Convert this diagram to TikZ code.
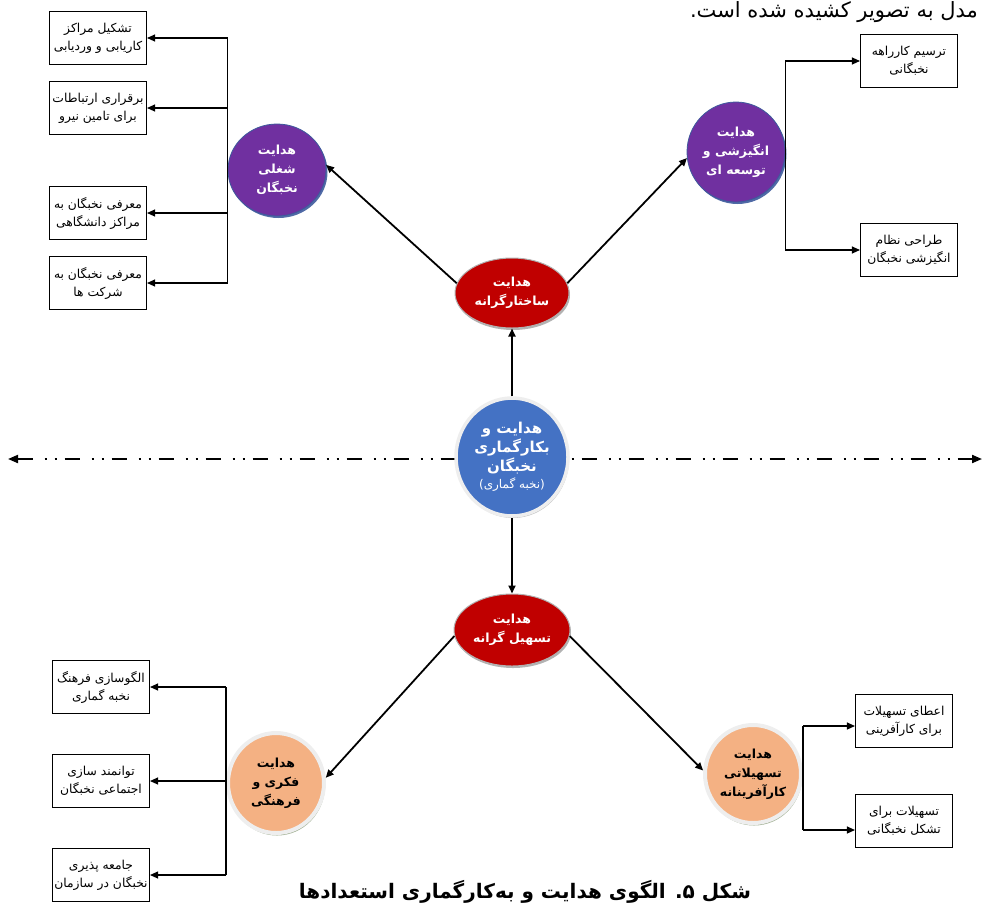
\documentclass[tikz,border=0pt]{standalone}
\usepackage{fontspec}
\TeXXeTstate=1
\newfontfamily\arabicfont[Script=Arabic]{DejaVu Sans}
\newcommand\fa[1]{\beginR #1\endR}
\usetikzlibrary{arrows.meta,shapes.geometric,shadows}
\definecolor{purp}{HTML}{7030A0}
\definecolor{purpedge}{HTML}{3D5A9C}
\definecolor{redc}{HTML}{C00000}
\definecolor{bluec}{HTML}{4472C4}
\definecolor{orangec}{HTML}{F4B183}
\definecolor{ringc}{HTML}{EEEEEE}
\definecolor{greenshadow}{HTML}{8EA07E}
\begin{document}
\begin{tikzpicture}[x=1pt,y=-1pt,
  box/.style={draw, line width=1.1pt, minimum width=97pt, minimum height=53pt, inner sep=1pt, align=center,
    font=\arabicfont\fontsize{12.3}{18}\selectfont},
  link/.style={-{Triangle[length=8pt,width=7pt]}, line width=1.1pt},
  main/.style={-{Triangle[length=8pt,width=7pt]}, line width=1.8pt},
  hub/.style={ellipse, align=center, inner sep=0pt, font=\arabicfont\bfseries\fontsize{12.5}{19}\selectfont},
  purplehub/.style={hub, fill=purp, draw=purpedge, line width=0.8pt, text=white,
    drop shadow={shadow xshift=1.5pt, shadow yshift=-2pt, fill=purpedge, opacity=0.9}},
  redhub/.style={hub, fill=redc, draw=gray!60, line width=1pt, text=white,
    drop shadow={shadow xshift=1pt, shadow yshift=-2pt, fill=gray, opacity=0.6}},
  bluehub/.style={hub, fill=bluec, draw=ringc, line width=3.5pt, text=white,
    drop shadow={shadow xshift=1pt, shadow yshift=-2pt, fill=gray, opacity=0.5}},
  orangehub/.style={hub, fill=orangec, draw=ringc, line width=4pt, text=black,
    drop shadow={shadow xshift=1pt, shadow yshift=-2.5pt, fill=greenshadow, opacity=0.8}},
  axis/.style={{Triangle[length=10pt,width=8pt]}-{Triangle[length=10pt,width=8pt]}, line width=2pt,
    dash pattern=on 15pt off 12pt on 2pt off 8pt on 2pt off 8pt, dash phase=0pt}
]
\useasboundingbox (0,0) rectangle (982,903);

% top sentence
\node[anchor=base east, font=\arabicfont\fontsize{21}{24}\selectfont, inner sep=0pt] (toptext) at (978,17) {\fa{مدل به تصویر کشیده شده است.}};

% dash-dot axis
\coordinate (axl) at (8,459);
\coordinate (axr) at (982,459);
\draw[axis] (axl) -- (axr);

% hubs
\node[bluehub, minimum width=112pt, minimum height=118pt, font=\arabicfont\bfseries\fontsize{15}{19}\selectfont] (C) at (512,457)
  {\fa{هدایت و}\\\fa{بکارگماری}\\\fa{نخبگان}\\[-2pt]{\mdseries\fontsize{12}{14}\selectfont \fa{(نخبه گماری)}}};
\node[redhub, minimum width=114pt, minimum height=70pt] (S) at (512,293) {\fa{هدایت}\\\fa{ساختارگرانه}};
\node[redhub, minimum width=116pt, minimum height=72pt] (T) at (512,630) {\fa{هدایت}\\\fa{تسهیل گرانه}};
\node[purplehub, minimum width=98pt, minimum height=92pt] (P1) at (277,170) {\fa{هدایت}\\\fa{شغلی}\\\fa{نخبگان}};
\node[purplehub, minimum width=98pt, minimum height=100pt] (P2) at (736,152) {\fa{هدایت}\\\fa{انگیزشی و}\\\fa{توسعه ای}};
\node[orangehub, minimum width=96pt, minimum height=100pt] (O1) at (276,783) {\fa{هدایت}\\\fa{فکری و}\\\fa{فرهنگی}};
\node[orangehub, minimum width=96pt, minimum height=98pt] (O2) at (753,774) {\fa{هدایت}\\\fa{تسهیلاتی}\\\fa{کارآفرینانه}};

% boxes
\node[box] (L1) at (98,38) {\fa{تشکیل مراکز}\\\fa{کاریابی و وردیابی}};
\node[box] (L2) at (98,108) {\fa{برقراری ارتباطات}\\\fa{برای تامین نیرو}};
\node[box] (L3) at (98,213) {\fa{معرفی نخبگان به}\\\fa{مراکز دانشگاهی}};
\node[box] (L4) at (98,283) {\fa{معرفی نخبگان به}\\\fa{شرکت ها}};
\node[box] (R1) at (909,61) {\fa{ترسیم کارراهه}\\\fa{نخبگانی}};
\node[box] (R2) at (909,250) {\fa{طراحی نظام}\\\fa{انگیزشی نخبگان}};
\node[box] (B1) at (101,687) {\fa{الگوسازی فرهنگ}\\\fa{نخبه گماری}};
\node[box] (B2) at (101,781) {\fa{توانمند سازی}\\\fa{اجتماعی نخبگان}};
\node[box] (B3) at (101,875) {\fa{جامعه پذیری}\\\fa{نخبگان در سازمان}};
\node[box] (D1) at (904,721) {\fa{اعطای تسهیلات}\\\fa{برای کارآفرینی}};
\node[box] (D2) at (904,821) {\fa{تسهیلات برای}\\\fa{تشکل نخبگانی}};

% main arrows
\draw[main] (C) -- (S);
\draw[main] (C) -- (T);
\draw[main] (S.170) -- (P1.6);
\draw[main] (S.10) -- (P2.187);
\draw[main] (T.186) -- (O1.6);
\draw[main] (T.354) -- (O2.176);

% left top bracket
\draw[line width=1.1pt] (P1.west |- L1) -- (P1.west |- L4);
\foreach \b in {L1,L2,L3,L4} \draw[link] (P1.west |- \b) -- (\b.east);
% right top bracket
\draw[line width=1.1pt] (P2.east |- R1.west) -- (P2.east |- R2.west);
\draw[link] (P2.east |- R1.west) -- (R1.west);
\draw[link] (P2.east |- R2.west) -- (R2.west);
% left bottom bracket
\draw[line width=1.1pt] (O1.west |- B1) -- (O1.west |- B3);
\foreach \b in {B1,B2,B3} \draw[link] (O1.west |- \b) -- (\b.east);
% right bottom bracket
\coordinate (d1in) at ([yshift=-5pt]D1.west);
\coordinate (d2in) at ([yshift=-9pt]D2.west);
\draw[line width=1.1pt] (O2.east |- d1in) -- (O2.east |- d2in);
\draw[link] (O2.east |- d1in) -- (d1in);
\draw[link] (O2.east |- d2in) -- (d2in);

% caption
\node[anchor=base, font=\arabicfont\bfseries\fontsize{20}{24}\selectfont, inner sep=0pt] (cap) at (525,898)
  {\fa{شکل ۵. الگوی  هدایت و به‌کارگماری استعدادها}};
\end{tikzpicture}
\end{document}
